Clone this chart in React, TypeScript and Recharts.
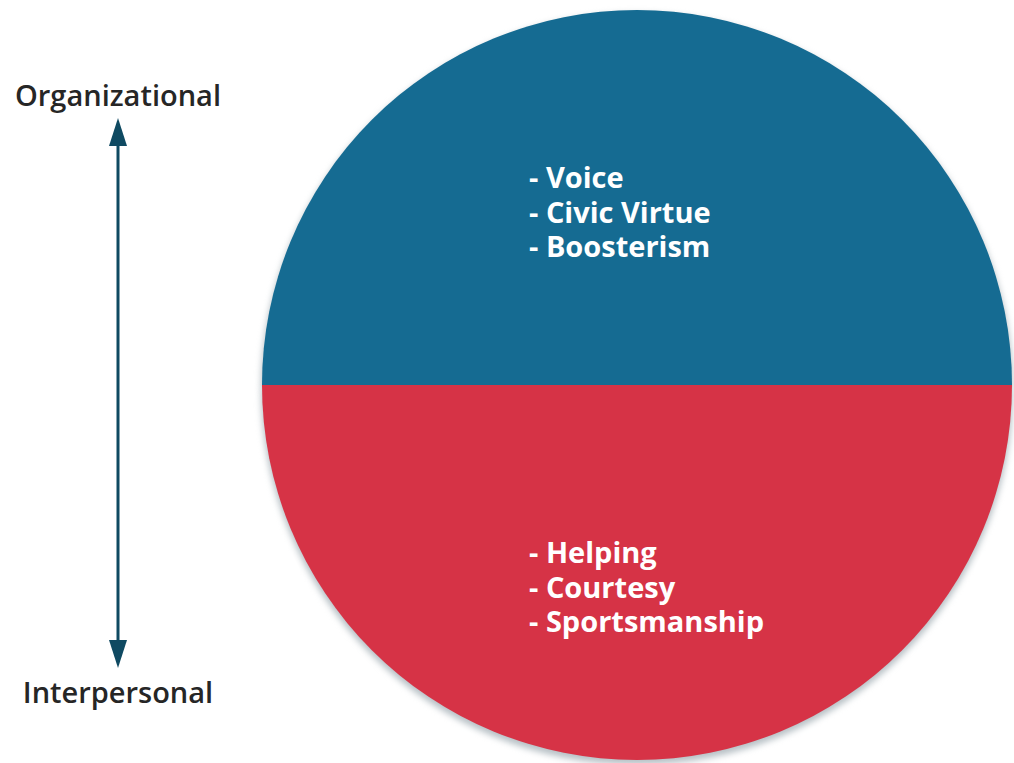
import React from 'react';
import { PieChart, Pie, Cell } from 'recharts';

// two halves of the circle: organizational (top) and interpersonal (bottom)
const dimensions = ['Organizational', 'Interpersonal'];
const shares = [50, 50];
const behaviors = [
    ['Voice', 'Civic Virtue', 'Boosterism'],
    ['Helping', 'Courtesy', 'Sportsmanship'],
];
const colors = ['#156b92', '#d63346'];

const data = dimensions.map((name, i) => ({ name, value: shares[i], items: behaviors[i] }));

const W = 1014;
const H = 763;
const CX = 637;
const CY = 385;
const R = 375;
const FONT = '"Open Sans", sans-serif';

const renderLabel = (props: any) => {
    const { cx, cy, index, payload } = props;
    const items: string[] = payload.items || (payload.payload && payload.payload.items) || [];
    const firstY = index === 0 ? cy - 207 : cy + 168;
    return (
        <g>
            {items.map((t, k) => (
                <text
                    key={t}
                    x={cx - 108}
                    y={firstY + k * 34.5}
                    dy="0.35em"
                    fill="#ffffff"
                    fontFamily={FONT}
                    fontWeight={700}
                    fontSize={29}
                >
                    - {t}
                </text>
            ))}
        </g>
    );
};

const arrowX = 118;
const arrowTop = 118;
const arrowBottom = 668;
const arrowColor = '#0f4a62';

export default function App() {
    return (
        <div style={{ position: 'absolute', left: 0, top: 0, width: W, height: H, background: '#fff' }}>
            <PieChart width={W} height={H} margin={{ top: 0, right: 0, bottom: 0, left: 0 }}>
                {/* soft shadow under the circle */}
                <Pie
                    data={data}
                    cx={CX}
                    cy={CY + 4}
                    outerRadius={R + 1}
                    startAngle={0}
                    endAngle={360}
                    dataKey="value"
                    stroke="none"
                    isAnimationActive={false}
                >
                    {data.map((d) => (
                        <Cell key={d.name} fill="#b8c1c6" style={{ filter: 'blur(3px)' }} />
                    ))}
                </Pie>
                <Pie
                    data={data}
                    cx={CX}
                    cy={CY}
                    outerRadius={R}
                    startAngle={0}
                    endAngle={360}
                    dataKey="value"
                    stroke="none"
                    isAnimationActive={false}
                    label={renderLabel}
                    labelLine={false}
                >
                    {data.map((d, i) => (
                        <Cell key={d.name} fill={colors[i]} />
                    ))}
                </Pie>
            </PieChart>

            <svg width={W} height={H} style={{ position: 'absolute', left: 0, top: 0, pointerEvents: 'none' }}>
                <line x1={arrowX} y1={arrowTop + 20} x2={arrowX} y2={arrowBottom - 20} stroke={arrowColor} strokeWidth={3} />
                <polygon points={`${arrowX},${arrowTop} ${arrowX - 9},${arrowTop + 28} ${arrowX + 9},${arrowTop + 28}`} fill={arrowColor} />
                <polygon points={`${arrowX},${arrowBottom} ${arrowX - 9},${arrowBottom - 28} ${arrowX + 9},${arrowBottom - 28}`} fill={arrowColor} />
                <text x={arrowX} y={96} dy="0.35em" textAnchor="middle" fill="#262626" fontFamily={FONT} fontWeight={600} fontSize={29}>
                    {dimensions[0]}
                </text>
                <text x={arrowX} y={693} dy="0.35em" textAnchor="middle" fill="#262626" fontFamily={FONT} fontWeight={600} fontSize={29}>
                    {dimensions[1]}
                </text>
            </svg>
        </div>
    );
}
